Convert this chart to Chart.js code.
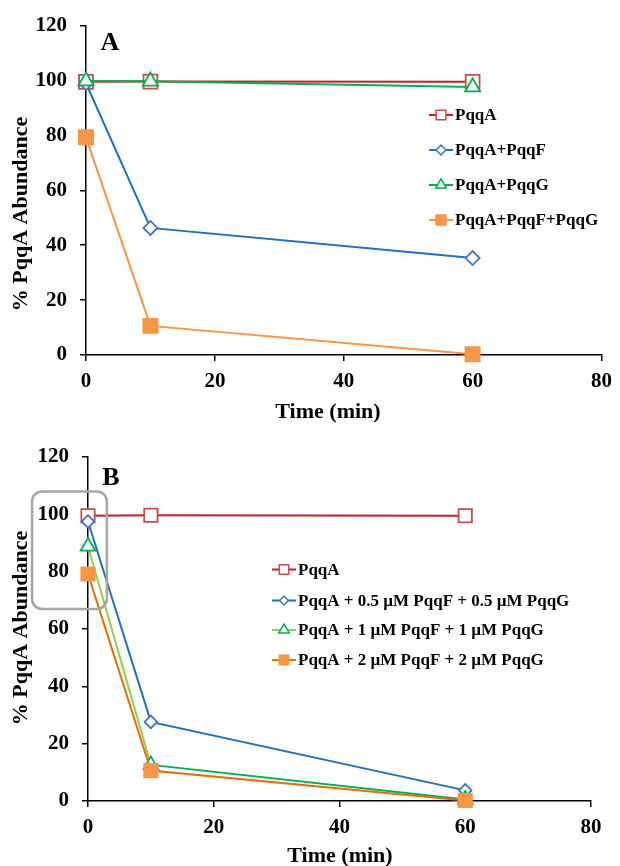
<!DOCTYPE html>
<html>
<head>
<meta charset="utf-8">
<script src="https://cdn.jsdelivr.net/npm/chart.js@4.4.1/dist/chart.umd.min.js"></script>
<style>
  body { margin: 0; background: #fff; }
  .panel { position: absolute; left: 0; width: 620px; }
</style>
</head>
<body>
<div class="panel" style="top:0"><canvas id="chartA" width="620" height="425"></canvas></div>
<div class="panel" style="top:430px"><canvas id="chartB" width="620" height="436"></canvas></div>
<script>
// --- DATA ---
const times = [0, 10, 60];
const xTicks = [0, 20, 40, 60, 80];
const yTicks = [0, 20, 40, 60, 80, 100, 120];

// panel A
const labelsA = ['PqqA', 'PqqA+PqqF', 'PqqA+PqqG', 'PqqA+PqqF+PqqG'];
const pqqA_A   = [99.5, 99.6, 99.5];
const pqqAF_A  = [99.0, 46.3, 35.3];
const pqqAG_A  = [99.8, 99.7, 97.6];
const pqqAFG_A = [79.3, 10.6, 0.3];

// panel B
const labelsB = ['PqqA', 'PqqA + 0.5 \u00b5M PqqF + 0.5 \u00b5M PqqG', 'PqqA + 1 \u00b5M PqqF + 1 \u00b5M PqqG', 'PqqA + 2 \u00b5M PqqF + 2 \u00b5M PqqG'];
const pqqA_B = [99.5, 99.7, 99.5];
const half_B = [97.5, 27.6, 3.7];
const one_B  = [88.8, 12.6, 0.5];
const two_B  = [79.2, 10.6, 0.2];

// grey highlight box round the t=0 points of B, in data units
const boxX = [-8.9, 3.0];
const boxY = [67, 108];

const SERIF = '"Liberation Serif", "Times New Roman", serif';

function pts(vals) {
    return times.map((t, i) => ({ x: t, y: vals[i] }));
}

function series(label, vals, line, marker, style, radius, filled, order, extra) {
    return Object.assign({
        label: label,
        data: pts(vals),
        borderColor: line,
        backgroundColor: line,
        borderWidth: 2,
        pointStyle: style,
        pointRadius: radius,
        pointBorderWidth: 1.8,
        pointBorderColor: marker,
        pointBackgroundColor: filled ? marker : '#fff',
        legendLine: line,
        tension: 0,
        clip: false,
        order: order
    }, extra || {});
}

function axes(yWidth, xHeight, xPad) {
    const tickFont = { family: SERIF, size: 21, weight: 'bold' };
    const common = {
        type: 'linear',
        grid: { display: true, drawOnChartArea: false, drawTicks: true, tickLength: 6, color: '#000', lineWidth: 1.5 },
        border: { display: true, color: '#000', width: 1.5 },
    };
    return {
        x: Object.assign({}, common, {
            min: 0, max: 80,
            afterBuildTicks: s => { s.ticks = xTicks.map(v => ({ value: v })); },
            ticks: { color: '#000', font: tickFont, padding: xPad, maxRotation: 0 },
            afterFit: s => { s.height = xHeight; }
        }),
        y: Object.assign({}, common, {
            min: 0, max: 120,
            afterBuildTicks: s => { s.ticks = yTicks.map(v => ({ value: v })); },
            ticks: { color: '#000', font: tickFont, padding: 13 },
            afterFit: s => { s.width = yWidth; }
        })
    };
}

// axis titles drawn by hand: the spreadsheet did not centre them on the axes
const axisTitles = {
    id: 'axisTitles',
    afterDraw(chart, args, opts) {
        const ctx = chart.ctx;
        ctx.save();
        ctx.fillStyle = '#000';
        ctx.font = 'bold 22px ' + SERIF;
        ctx.textAlign = 'center';
        ctx.textBaseline = 'middle';
        ctx.fillText('Time (min)', opts.x[0], opts.x[1]);
        ctx.translate(opts.y[0], opts.y[1]);
        ctx.rotate(-Math.PI / 2);
        ctx.fillText('% PqqA Abundance', 0, 0);
        ctx.restore();
    }
};

// legend with a short line through the marker, like the spreadsheet one
const lineLegend = {
    id: 'lineLegend',
    afterDraw(chart, args, opts) {
        const ctx = chart.ctx;
        ctx.save();
        chart.data.datasets.forEach((ds, i) => {
            const y = opts.rows[i];
            const cx = (opts.x0 + opts.x1) / 2;
            ctx.strokeStyle = ds.legendLine;
            ctx.lineWidth = 2;
            ctx.beginPath();
            ctx.moveTo(opts.x0, y);
            ctx.lineTo(opts.x1, y);
            ctx.stroke();
            ctx.fillStyle = ds.pointBackgroundColor;
            ctx.strokeStyle = ds.pointBorderColor;
            ctx.lineWidth = 1.5;
            Chart.helpers.drawPoint(ctx, {
                pointStyle: ds.pointStyle,
                radius: ds.pointRadius * 0.7,
                rotation: 0,
                borderWidth: 1.5
            }, cx, y);
            ctx.fillStyle = '#000';
            ctx.font = 'bold 17px ' + SERIF;
            ctx.textAlign = 'left';
            ctx.textBaseline = 'middle';
            ctx.fillText(ds.label, opts.tx, y + 1);
        });
        ctx.restore();
    }
};

const panelLetter = {
    id: 'panelLetter',
    afterDraw(chart, args, opts) {
        const ctx = chart.ctx;
        ctx.save();
        ctx.fillStyle = '#000';
        ctx.font = 'bold 26px ' + SERIF;
        ctx.textAlign = 'center';
        ctx.textBaseline = 'middle';
        ctx.fillText(opts.text, opts.x, opts.y);
        ctx.restore();
    }
};

const greyBox = {
    id: 'greyBox',
    afterDatasetsDraw(chart, args, opts) {
        if (!opts.show) return;
        const xs = chart.scales.x, ys = chart.scales.y;
        const l = xs.getPixelForValue(boxX[0]), r = xs.getPixelForValue(boxX[1]);
        const t = ys.getPixelForValue(boxY[1]), b = ys.getPixelForValue(boxY[0]);
        const ctx = chart.ctx;
        ctx.save();
        ctx.strokeStyle = '#A6A6A6';
        ctx.lineWidth = 2.5;
        ctx.beginPath();
        ctx.roundRect(l, t, r - l, b - t, 10);
        ctx.stroke();
        ctx.restore();
    }
};

Chart.defaults.animation = false;
Chart.defaults.font.family = SERIF;

new Chart(document.getElementById('chartA'), {
    type: 'line',
    data: {
        datasets: [
            series(labelsA[0], pqqA_A, '#C41E25', '#C0504D', 'rect', 9.8, false, 4),
            series(labelsA[1], pqqAF_A, '#1F70C1', '#4472C4', 'rectRot', 7, false, 3),
            series(labelsA[2], pqqAG_A, '#00B050', '#00B050', 'triangle', 8.7, false, 2),
            series(labelsA[3], pqqAFG_A, '#F79646', '#F79646', 'rect', 10, true, 1)
        ]
    },
    options: {
        responsive: false,
        layout: { padding: { left: 0, top: 23, right: 12, bottom: 0 } },
        scales: axes(86, 70, 8),
        plugins: {
            legend: { display: false },
            tooltip: { enabled: false },
            lineLegend: { x0: 429, x1: 453, tx: 455, rows: [115, 150, 185, 220] },
            panelLetter: { text: 'A', x: 110, y: 43 },
            greyBox: { show: false },
            axisTitles: { x: [328, 412], y: [21.7, 214] }
        }
    },
    plugins: [lineLegend, panelLetter, greyBox, axisTitles]
});

new Chart(document.getElementById('chartB'), {
    type: 'line',
    data: {
        datasets: [
            series(labelsB[0], pqqA_B, '#C41E25', '#C0504D', 'rect', 9.4, false, 4),
            series(labelsB[1], half_B, '#1F70C1', '#4472C4', 'rectRot', 6.3, false, 3),
            series(labelsB[2], one_B, '#92D050', '#00B050', 'triangle', 8.5, false, 2, {
                segment: { borderColor: c => c.p0DataIndex === 0 ? '#92D050' : '#00B050' }
            }),
            series(labelsB[3], two_B, '#E46C0A', '#F79646', 'rect', 9.4, true, 1)
        ]
    },
    options: {
        responsive: false,
        layout: { padding: { left: 0, top: 27, right: 29, bottom: 0 } },
        scales: axes(88, 65, 7.5),
        plugins: {
            legend: { display: false },
            tooltip: { enabled: false },
            lineLegend: { x0: 272, x1: 296, tx: 298, rows: [139.5, 170.5, 200, 230] },
            panelLetter: { text: 'B', x: 111, y: 48 },
            greyBox: { show: true },
            axisTitles: { x: [340, 426], y: [21.8, 198] }
        }
    },
    plugins: [lineLegend, panelLetter, greyBox, axisTitles]
});
</script>
</body>
</html>
